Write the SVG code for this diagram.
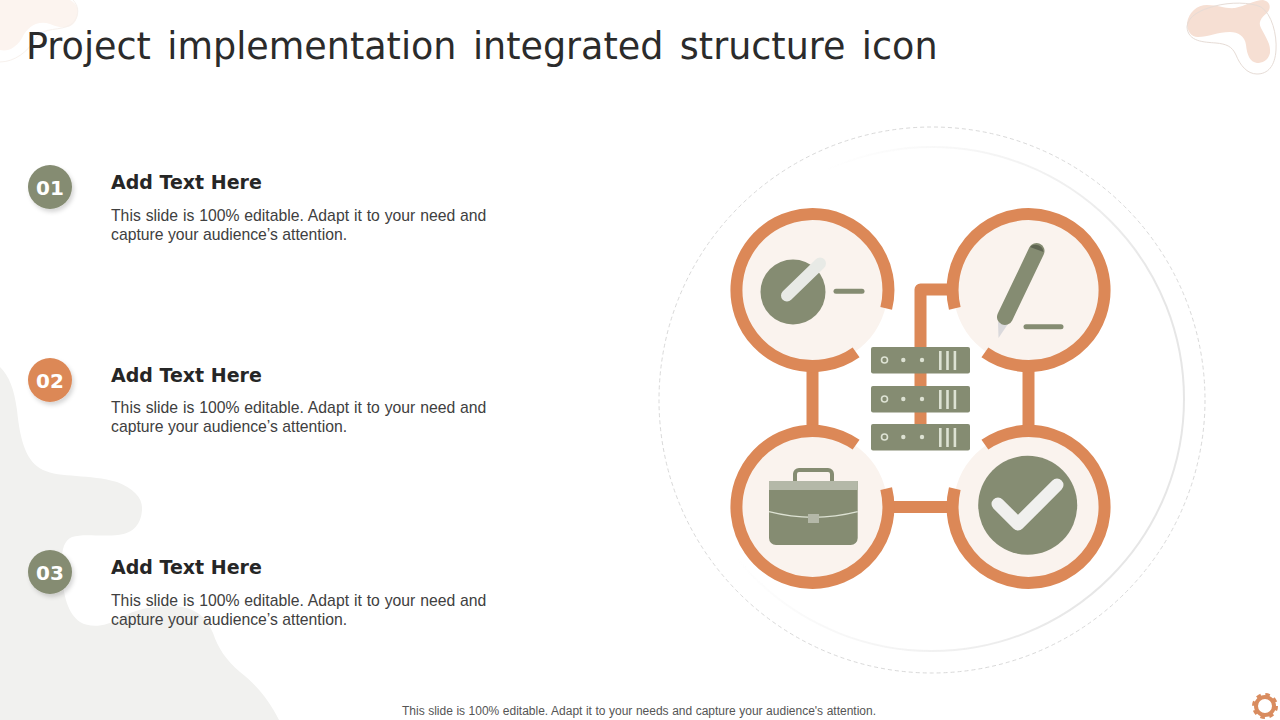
<svg xmlns="http://www.w3.org/2000/svg" width="1280" height="720" viewBox="0 0 1280 720">
<style>
.ring{fill:none;stroke:#DC8857;stroke-width:12}
.conn{fill:none;stroke:#DC8857;stroke-width:12;stroke-linejoin:round}
.disc{fill:#FAF3EE}
.g{fill:#858C72}
.dash{stroke:#858C72;stroke-width:5;stroke-linecap:round;fill:none}
.bar{fill:#DDE2D3}
.head{font:bold 19px "DejaVu Sans",sans-serif;fill:#262626}
.body{font:15.75px "Liberation Sans",Arial,sans-serif;fill:#404040}
.wide{word-spacing:.5px}
.num{font:bold 20px "DejaVu Sans",sans-serif;fill:#fff;text-anchor:middle}
</style>
<defs>
<filter id="sh" x="-30%" y="-30%" width="160%" height="160%"><feDropShadow dx="2" dy="3" stdDeviation="2" flood-color="#000" flood-opacity="0.16"/></filter>
<filter id="soft" x="-5%" y="-5%" width="110%" height="110%"><feGaussianBlur stdDeviation="0.7"/></filter>
<linearGradient id="fade" gradientUnits="userSpaceOnUse" x1="780" y1="360" x2="1130" y2="440">
<stop offset="0" stop-color="#EAEAEA" stop-opacity="0"/>
<stop offset="0.5" stop-color="#EAEAEA" stop-opacity="0.55"/>
<stop offset="1" stop-color="#E6E6E6"/>
</linearGradient>
<g id="server">
<rect x="871" y="0" width="99" height="26.5" rx="2" class="g"/>
<circle cx="884.5" cy="13" r="3" fill="none" stroke="#DDE2D3" stroke-width="1.6"/>
<circle cx="903.3" cy="13" r="2.2" class="bar"/>
<circle cx="922" cy="13" r="2.2" class="bar"/>
<rect x="939" y="4" width="2.6" height="19" class="bar"/>
<rect x="946.2" y="4" width="2.6" height="19" class="bar"/>
<rect x="953.6" y="4" width="2.6" height="19" class="bar"/>
</g>
</defs>

<g id="background">
<path d="M0 367C9 376 14 388 17 410C20 440 26 462 43 470C60 478 90 474 117 482C134 489 143 498 142 510C141 524 134 533 118 535C100 537 84 533 72 537C63 541 61 552 62 570C63 597 68 613 80 622C90 628 106 627 120 618C134 610 150 606 170 606C194 606 206 616 213 633C218 648 226 660 240 672C258 686 270 702 279 720L0 720Z" fill="#F1F1EF"/>
<path d="M1187 23C1189 12 1197 5 1207 5C1218 5 1226 9 1235 8C1245 6 1255 0 1263 0C1270 1 1272 8 1267 13C1261 18 1258 22 1261 28C1266 38 1271 44 1270 53C1268 61 1262 63 1257 63C1250 62 1247 55 1246 45C1245 36 1238 32 1230 32C1218 32 1208 37 1198 37C1191 37 1187 31 1187 23Z" fill="#F6DFD3"/>
<path d="M1187 27C1188 16 1200 10 1215 6C1230 2 1250 2 1261 7C1272 14 1277 35 1276 50C1275 66 1268 74 1257 74C1247 74 1240 65 1236 55C1232 46 1226 44 1216 43C1204 42 1188 42 1187 27Z" fill="none" stroke="#E6DCD6" stroke-width="1"/>
<path d="M0 0L70 0C78 4 80 12 76 20C72 29 62 29 50 24C38 20 28 26 22 38C16 48 8 52 0 50Z" fill="#FCF4EF"/>
<path d="M0 62C14 62 28 52 36 38C44 26 60 32 72 24C80 16 79 6 73 0" fill="none" stroke="#F7F1ED" stroke-width="1"/>
</g>

<g id="title"><text x="26" y="58.500" font-family="'DejaVu Sans',sans-serif" font-size="36.5" fill="#2B2B2B" word-spacing="4.8">Project implementation integrated structure icon</text></g>

<g id="item1">
<circle cx="50" cy="187" r="22" class="g" filter="url(#sh)"/><text x="50" y="195" class="num">01</text>
<text x="111" y="189" class="head">Add Text Here</text>
<text x="111" y="221" class="body wide">This slide is 100% editable. Adapt it to your need and</text>
<text x="111" y="240" class="body">capture your audience’s attention.</text>
</g>
<g id="item2">
<circle cx="50" cy="380" r="22" fill="#DC8857" filter="url(#sh)"/><text x="50" y="388" class="num">02</text>
<text x="111" y="382" class="head">Add Text Here</text>
<text x="111" y="413" class="body wide">This slide is 100% editable. Adapt it to your need and</text>
<text x="111" y="432" class="body">capture your audience’s attention.</text>
</g>
<g id="item3">
<circle cx="50" cy="572" r="22" class="g" filter="url(#sh)"/><text x="50" y="580" class="num">03</text>
<text x="111" y="574" class="head">Add Text Here</text>
<text x="111" y="606" class="body wide">This slide is 100% editable. Adapt it to your need and</text>
<text x="111" y="625" class="body">capture your audience’s attention.</text>
</g>

<g id="backdrop">
<circle cx="932" cy="400" r="273" fill="none" stroke="#D9D9D9" stroke-width="1" stroke-dasharray="4 3"/>
<circle cx="932" cy="399" r="252" fill="none" stroke="url(#fade)" stroke-width="2" filter="url(#soft)"/>
</g>

<g id="connectors">
<path class="conn" d="M812.5 366V430"/>
<path class="conn" d="M1028.5 366V430"/>
<path class="conn" d="M888 507H952"/>
<path class="conn" d="M920.500 430V289.500H952"/>
</g>

<g id="node-target">
<circle cx="812.5" cy="290" r="75" class="disc"/>
<path class="ring" d="M856.1 352.3A76 76 0 1 1 886.2 308.4"/>
<circle cx="793" cy="292" r="32.5" class="g"/>
<path d="M787 295.5L820 263.5" stroke="#E8EAE6" stroke-width="12" stroke-linecap="round"/>
<path class="dash" d="M836 291.3H862"/>
</g>
<g id="node-pen">
<g transform="translate(.5 0)">
<circle cx="1028" cy="290" r="75" class="disc"/>
<path class="ring" d="M954.3 308.4A76 76 0 1 1 984.4 352.3"/>
</g>
<path d="M998 322L1008 324L998.5 338Z" fill="#DAD9DC"/>
<path d="M1036.500 251L1005 317" stroke="#858C72" stroke-width="16" stroke-linecap="round"/>
<path d="M1030 247A8 8 0 0 1 1043.500 252Z" fill="#5F6552"/>
<path class="dash" d="M1026 326.700H1061"/>
</g>
<g id="node-case">
<g transform="translate(0 .5)">
<circle cx="812.5" cy="506.500" r="75" class="disc"/>
<path class="ring" d="M886.2 488.100A76 76 0 1 1 856.100 444.200"/>
</g>
<rect x="795" y="470" width="37" height="20" rx="4" fill="none" stroke="#858C72" stroke-width="4"/>
<path d="M769 481H857.700V538A7 7 0 0 1 850.700 545H776A7 7 0 0 1 769 538Z" class="g"/>
<rect x="769" y="481" width="88.700" height="9" fill="#B4B8A8"/>
<path d="M769 511.700Q813 523 857.700 511.700" fill="none" stroke="#DDE2D3" stroke-width="1.300"/>
<rect x="808" y="514" width="11" height="9" fill="#B4B8A8"/>
</g>
<g id="node-check">
<g transform="translate(.5 .5)">
<circle cx="1028" cy="506.500" r="75" class="disc"/>
<path class="ring" d="M984.400 444.200A76 76 0 1 1 954.300 488.100"/>
</g>
<circle cx="1027.700" cy="505.300" r="49.500" class="g"/>
<path d="M998 504L1018 524L1057 485" fill="none" stroke="#F0F0EE" stroke-width="13" stroke-linecap="round" stroke-linejoin="round"/>
</g>
<g id="node-server">
<use href="#server" y="347"/>
<use href="#server" y="386"/>
<use href="#server" y="424"/>
</g>

<g id="gear">
<circle cx="1265" cy="706" r="9" fill="none" stroke="#D98C5F" stroke-width="4"/>
<circle cx="1265" cy="706" r="11.500" fill="none" stroke="#D98C5F" stroke-width="3" stroke-dasharray="4.500 4.530"/>
</g>
<g id="footer"><text x="639" y="715" text-anchor="middle" font-family="'Liberation Sans',Arial,sans-serif" font-size="12" fill="#555" word-spacing=".2">This slide is 100% editable. Adapt it to your needs and capture your audience's attention.</text></g>
</svg>
